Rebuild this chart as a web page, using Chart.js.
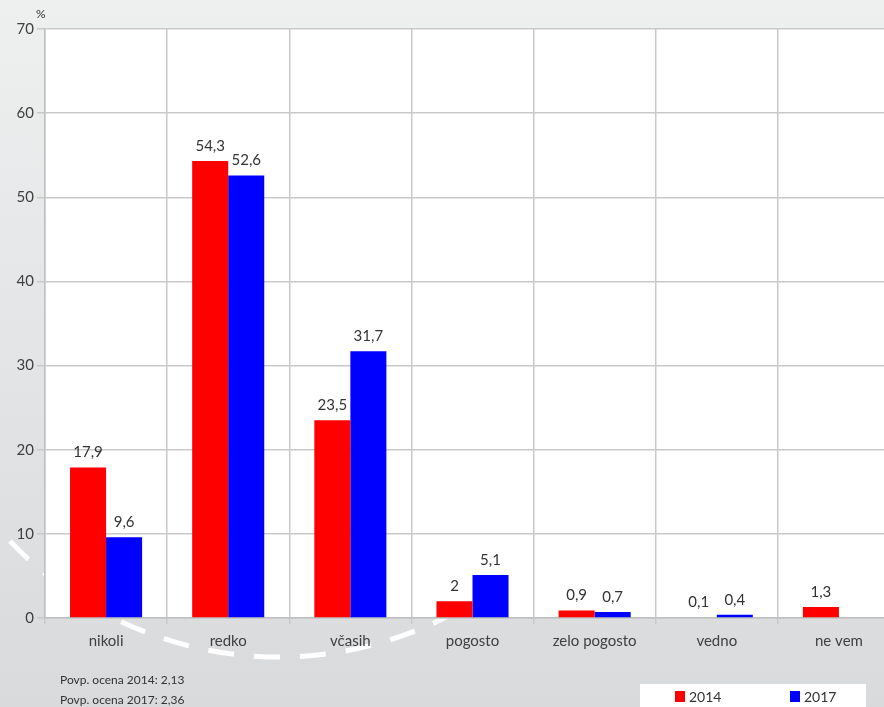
<!DOCTYPE html>
<html>
<head>
<meta charset="utf-8">
<script src="https://cdn.jsdelivr.net/npm/chart.js@4"></script>
<style>
html,body{margin:0;padding:0;overflow:hidden;width:884px;height:707px;background:#e6e7e8;}
#wrap{position:absolute;left:0;top:0;width:900px;height:707px;}
</style>
</head>
<body>
<div id="wrap"><canvas id="c"></canvas></div>
<script>
const categories = ['nikoli', 'redko', 'včasih', 'pogosto', 'zelo pogosto', 'vedno', 'ne vem'];
const values2014 = [17.9, 54.3, 23.5, 2, 0.9, 0.1, 1.3];
const values2017 = [9.6, 52.6, 31.7, 5.1, 0.7, 0.4, null];
const seriesLabels = ['2014', '2017'];
const yTicks = [0, 10, 20, 30, 40, 50, 60, 70];
const notes = ['Povp. ocena 2014: 2,13', 'Povp. ocena 2017: 2,36'];

const FONT = 'Lato, "Open Sans", sans-serif';

const bgPlugin = {
  id: 'bg',
  beforeDraw(chart) {
    const ctx = chart.ctx, W = chart.width, H = chart.height, a = chart.chartArea;
    ctx.save();
    const g = ctx.createLinearGradient(0, 0, 0, H);
    g.addColorStop(0, '#eeefef');
    g.addColorStop(1, '#d9dadc');
    ctx.fillStyle = g;
    ctx.fillRect(0, 0, W, H);
    // decorative dashed arc
    ctx.strokeStyle = '#ffffff';
    ctx.lineWidth = 5;
    ctx.setLineDash([26, 20]);
    ctx.beginPath();
    ctx.arc(279, 287, 370, 0.2, Math.PI * 0.92);
    ctx.stroke();
    ctx.setLineDash([]);
    ctx.fillStyle = '#ffffff';
    ctx.fillRect(a.left, a.top, a.right - a.left, a.bottom - a.top);
    ctx.restore();
  },
  afterDraw(chart) {
    const ctx = chart.ctx, a = chart.chartArea;
    ctx.save();
    ctx.fillStyle = '#333';
    ctx.font = '12px ' + FONT;
    ctx.textAlign = 'left';
    ctx.textBaseline = 'alphabetic';
    ctx.fillText('%', a.left - 9, a.top - 11);
    ctx.font = '12px ' + FONT;
    ctx.fillText(notes[0], 60, 684);
    ctx.fillText(notes[1], 60, 704);
    // legend
    ctx.fillStyle = '#ffffff';
    ctx.fillRect(640, 684, 226, 40);
    const xs = [675, 790];
    chart.data.datasets.forEach((ds, i) => {
      ctx.fillStyle = ds.backgroundColor;
      ctx.fillRect(xs[i], 691, 10, 11);
      ctx.fillStyle = '#333';
      ctx.font = '14px ' + FONT;
      ctx.fillText(ds.label, xs[i] + 14, 702);
    });
    ctx.restore();
  },
  afterDatasetsDraw(chart) {
    const ctx = chart.ctx;
    ctx.save();
    ctx.fillStyle = '#333';
    ctx.font = '15px ' + FONT;
    ctx.textAlign = 'center';
    ctx.textBaseline = 'alphabetic';
    chart.data.datasets.forEach((ds, i) => {
      const meta = chart.getDatasetMeta(i);
      meta.data.forEach((el, j) => {
        const v = ds.data[j];
        if (v === null || v === undefined) return;
        ctx.fillText(String(v).replace('.', ','), el.x, el.y - 10);
      });
    });
    ctx.restore();
  }
};

new Chart(document.getElementById('c'), {
  type: 'bar',
  data: {
    labels: categories,
    datasets: [
      { label: seriesLabels[0], data: values2014, backgroundColor: '#ff0000', borderWidth: 0 },
      { label: seriesLabels[1], data: values2017, backgroundColor: '#0000ff', borderWidth: 0 }
    ]
  },
  options: {
    responsive: true,
    maintainAspectRatio: false,
    animation: false,
    layout: { padding: { top: 29, left: 0, right: 0, bottom: 0 } },
    plugins: { legend: { display: false }, tooltip: { enabled: false } },
    datasets: { bar: { categoryPercentage: 0.59, barPercentage: 1.0 } },
    scales: {
      x: {
        grid: { color: '#c9c9c9', lineWidth: 1.5, tickLength: 6, offset: true },
        border: { color: '#c0c0c0', width: 1.5 },
        ticks: { color: '#404040', font: { family: FONT, size: 15 }, padding: 8, maxRotation: 0 },
        afterFit(s) { s.height = 89; }
      },
      y: {
        min: 0, max: 70,
        afterBuildTicks(s) { s.ticks = yTicks.map(v => ({ value: v })); },
        grid: { color: '#c9c9c9', lineWidth: 1.5, tickLength: 8 },
        border: { color: '#c0c0c0', width: 1.5 },
        ticks: { color: '#404040', font: { family: FONT, size: 15 }, padding: 3 },
        afterFit(s) { s.width = 45; }
      }
    }
  },
  plugins: [bgPlugin]
});
</script>
</body>
</html>
